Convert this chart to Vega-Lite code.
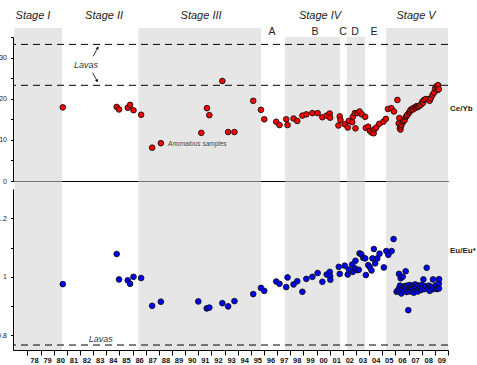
{
  "$schema": "https://vega.github.io/schema/vega-lite/v6.json",
  "autosize": {"type": "none"},
  "padding": {"left": 13, "top": 37, "right": 464, "bottom": 328},
  "background": "white",
  "bounds": "flush",
  "spacing": 8,
  "config": {
    "view": {"stroke": null},
    "font": "Liberation Sans",
    "axis": {
      "domainColor": "#000",
      "domainWidth": 1,
      "ticks": true,
      "tickColor": "#000",
      "tickWidth": 1,
      "tickSize": 2.5,
      "labelColor": "#222",
      "labelFont": "Liberation Sans",
      "labelFontSize": 7,
      "labelPadding": 4,
      "labelOverlap": false,
      "labelFlush": false,
      "grid": false,
      "zindex": 1
    }
  },
  "datasets": {
    "single": [{}],
    "stages": [
      {"name": "Stage I", "kind": "stage", "start": 1977.0, "end": 1980.63},
      {"name": "Stage III", "kind": "stage", "start": 1986.44, "end": 1995.77},
      {"name": "B", "kind": "episode", "start": 1997.6, "end": 2001.79},
      {"name": "D", "kind": "episode", "start": 2002.32, "end": 2003.69},
      {"name": "Stage V", "kind": "stage", "start": 2005.29, "end": 2010.0}
    ],
    "stageLabels": [
      {"label": "Stage I", "year": 1978.42},
      {"label": "Stage II", "year": 1983.83},
      {"label": "Stage III", "year": 1991.21},
      {"label": "Stage IV", "year": 2000.26},
      {"label": "Stage V", "year": 2007.57}
    ],
    "episodeLabels": [
      {"label": "A", "year": 1996.61},
      {"label": "B", "year": 1999.88},
      {"label": "C", "year": 2002.01},
      {"label": "D", "year": 2002.93},
      {"label": "E", "year": 2004.37}
    ],
    "arrows": [
      {"id": "upper", "year": 1983.0, "value": 30.3, "year2": 1983.35, "value2": 32.4},
      {"id": "lower", "year": 1982.96, "value": 26.3, "year2": 1983.3, "value2": 24.3}
    ],
    "ceyb": [
      {"year": 1980.69, "value": 17.9},
      {"year": 1984.79, "value": 18.0},
      {"year": 1984.97, "value": 17.4},
      {"year": 1985.63, "value": 17.8},
      {"year": 1985.81, "value": 18.5},
      {"year": 1986.07, "value": 17.2},
      {"year": 1986.65, "value": 16.1},
      {"year": 1987.49, "value": 8.1},
      {"year": 1988.15, "value": 9.2},
      {"year": 1991.23, "value": 11.7},
      {"year": 1991.66, "value": 17.7},
      {"year": 1991.84, "value": 16.0},
      {"year": 1992.83, "value": 24.3},
      {"year": 1993.27, "value": 11.9},
      {"year": 1993.75, "value": 11.9},
      {"year": 1995.18, "value": 19.5},
      {"year": 1995.77, "value": 17.3},
      {"year": 1996.02, "value": 15.0},
      {"year": 1996.93, "value": 14.4},
      {"year": 1997.18, "value": 13.6},
      {"year": 1997.69, "value": 15.0},
      {"year": 1997.79, "value": 13.6},
      {"year": 1998.25, "value": 15.2},
      {"year": 1998.53, "value": 14.6},
      {"year": 1998.92, "value": 15.9},
      {"year": 1999.22, "value": 16.2},
      {"year": 1999.68, "value": 16.5},
      {"year": 2000.08, "value": 16.5},
      {"year": 2000.44, "value": 15.5},
      {"year": 2000.77, "value": 15.9},
      {"year": 2001.0, "value": 16.4},
      {"year": 2001.03, "value": 15.4},
      {"year": 2001.66, "value": 13.5},
      {"year": 2001.76, "value": 15.7},
      {"year": 2001.82, "value": 14.8},
      {"year": 2002.14, "value": 13.8},
      {"year": 2002.37, "value": 13.0},
      {"year": 2002.45, "value": 14.6},
      {"year": 2002.71, "value": 14.3},
      {"year": 2002.76, "value": 15.6},
      {"year": 2002.91, "value": 16.5},
      {"year": 2002.96, "value": 12.8},
      {"year": 2003.11, "value": 16.5},
      {"year": 2003.27, "value": 16.9},
      {"year": 2003.44, "value": 16.2},
      {"year": 2003.7, "value": 15.6},
      {"year": 2003.75, "value": 12.9},
      {"year": 2003.93, "value": 13.2},
      {"year": 2004.05, "value": 12.2},
      {"year": 2004.18, "value": 11.8},
      {"year": 2004.34, "value": 11.6},
      {"year": 2004.41, "value": 12.6},
      {"year": 2004.54, "value": 13.0},
      {"year": 2004.77, "value": 13.9},
      {"year": 2005.08, "value": 14.4},
      {"year": 2005.27, "value": 15.1},
      {"year": 2005.43, "value": 17.5},
      {"year": 2005.69, "value": 17.7},
      {"year": 2005.89, "value": 16.9},
      {"year": 2006.15, "value": 19.7},
      {"year": 2006.25, "value": 14.0},
      {"year": 2006.3, "value": 15.3},
      {"year": 2006.34, "value": 12.8},
      {"year": 2006.38, "value": 12.5},
      {"year": 2006.4, "value": 13.2},
      {"year": 2006.45, "value": 13.6},
      {"year": 2006.55, "value": 14.2},
      {"year": 2006.6, "value": 14.6},
      {"year": 2006.7, "value": 14.8},
      {"year": 2006.78, "value": 15.5},
      {"year": 2006.85, "value": 15.8},
      {"year": 2006.91, "value": 16.1},
      {"year": 2007.03, "value": 16.6},
      {"year": 2007.1, "value": 16.9},
      {"year": 2007.16, "value": 17.3},
      {"year": 2007.29, "value": 17.6},
      {"year": 2007.35, "value": 17.4},
      {"year": 2007.46, "value": 17.9},
      {"year": 2007.55, "value": 17.8},
      {"year": 2007.62, "value": 18.2},
      {"year": 2007.7, "value": 18.0},
      {"year": 2007.79, "value": 18.2},
      {"year": 2007.92, "value": 18.5},
      {"year": 2008.05, "value": 19.3},
      {"year": 2008.1, "value": 19.0},
      {"year": 2008.18, "value": 19.7},
      {"year": 2008.3, "value": 19.9},
      {"year": 2008.48, "value": 19.9},
      {"year": 2008.6, "value": 19.5},
      {"year": 2008.69, "value": 20.1},
      {"year": 2008.82, "value": 20.9},
      {"year": 2008.94, "value": 21.5},
      {"year": 2009.02, "value": 22.5},
      {"year": 2009.15, "value": 23.1},
      {"year": 2009.2, "value": 22.1},
      {"year": 2009.25, "value": 23.3},
      {"year": 2009.3, "value": 22.3}
    ],
    "eueu": [
      {"year": 1980.69, "value": 0.975},
      {"year": 1984.79, "value": 1.078},
      {"year": 1984.97, "value": 0.991},
      {"year": 1985.63, "value": 0.988},
      {"year": 1985.81, "value": 0.976},
      {"year": 1986.07, "value": 1.0},
      {"year": 1986.65, "value": 0.996},
      {"year": 1987.49, "value": 0.901},
      {"year": 1988.15, "value": 0.915},
      {"year": 1991.0, "value": 0.916},
      {"year": 1991.64, "value": 0.892},
      {"year": 1991.84, "value": 0.895},
      {"year": 1992.83, "value": 0.91},
      {"year": 1993.27, "value": 0.899},
      {"year": 1993.75, "value": 0.917},
      {"year": 1995.18, "value": 0.941},
      {"year": 1995.77, "value": 0.962},
      {"year": 1996.02, "value": 0.952},
      {"year": 1996.93, "value": 0.984},
      {"year": 1997.18, "value": 0.976},
      {"year": 1997.69, "value": 0.965},
      {"year": 1997.79, "value": 0.998},
      {"year": 1998.25, "value": 0.974},
      {"year": 1998.53, "value": 0.985},
      {"year": 1998.92, "value": 0.949},
      {"year": 1999.22, "value": 0.993},
      {"year": 1999.68, "value": 1.0},
      {"year": 2000.08, "value": 1.013},
      {"year": 2000.44, "value": 0.983},
      {"year": 2000.77, "value": 1.008},
      {"year": 2001.0, "value": 1.017},
      {"year": 2001.03, "value": 1.002},
      {"year": 2001.05, "value": 0.99},
      {"year": 2001.69, "value": 1.034},
      {"year": 2001.76, "value": 1.01},
      {"year": 2002.14, "value": 1.038},
      {"year": 2002.37, "value": 1.008},
      {"year": 2002.45, "value": 1.025},
      {"year": 2002.71, "value": 1.042},
      {"year": 2002.76, "value": 1.017},
      {"year": 2002.91, "value": 1.029},
      {"year": 2002.96, "value": 1.055},
      {"year": 2003.11, "value": 1.023},
      {"year": 2003.21, "value": 1.024},
      {"year": 2003.27, "value": 1.08},
      {"year": 2003.4, "value": 1.077},
      {"year": 2003.55, "value": 1.065},
      {"year": 2003.7, "value": 1.063},
      {"year": 2003.75, "value": 1.006},
      {"year": 2003.93, "value": 1.04},
      {"year": 2004.05, "value": 1.033},
      {"year": 2004.18, "value": 1.022},
      {"year": 2004.25, "value": 1.063},
      {"year": 2004.36, "value": 1.095},
      {"year": 2004.46, "value": 1.046},
      {"year": 2004.62, "value": 1.063},
      {"year": 2004.79, "value": 1.079},
      {"year": 2005.12, "value": 1.032},
      {"year": 2005.31, "value": 1.088},
      {"year": 2005.46, "value": 1.075},
      {"year": 2005.71, "value": 1.088},
      {"year": 2005.86, "value": 1.129},
      {"year": 2006.09, "value": 0.949},
      {"year": 2006.2, "value": 0.955},
      {"year": 2006.27, "value": 1.01},
      {"year": 2006.3, "value": 0.962},
      {"year": 2006.35, "value": 0.97},
      {"year": 2006.4, "value": 0.995},
      {"year": 2006.45, "value": 0.943},
      {"year": 2006.5, "value": 0.958},
      {"year": 2006.55, "value": 1.0},
      {"year": 2006.6, "value": 0.965},
      {"year": 2006.65, "value": 0.952},
      {"year": 2006.7, "value": 0.968},
      {"year": 2006.78, "value": 1.019},
      {"year": 2006.8, "value": 0.96},
      {"year": 2006.85, "value": 0.948},
      {"year": 2006.9, "value": 0.97},
      {"year": 2006.98, "value": 0.886},
      {"year": 2007.0, "value": 0.962},
      {"year": 2007.05, "value": 0.955},
      {"year": 2007.1, "value": 0.972},
      {"year": 2007.15, "value": 0.95},
      {"year": 2007.2, "value": 0.965},
      {"year": 2007.3, "value": 0.958},
      {"year": 2007.35, "value": 0.97},
      {"year": 2007.4, "value": 0.946},
      {"year": 2007.45, "value": 0.962},
      {"year": 2007.5, "value": 0.974},
      {"year": 2007.55, "value": 0.955},
      {"year": 2007.6, "value": 0.965},
      {"year": 2007.7, "value": 0.95},
      {"year": 2007.75, "value": 0.97},
      {"year": 2007.8, "value": 0.96},
      {"year": 2007.9, "value": 0.968},
      {"year": 2007.95, "value": 0.955},
      {"year": 2008.0, "value": 0.972},
      {"year": 2008.05, "value": 0.962},
      {"year": 2008.13, "value": 0.991},
      {"year": 2008.2, "value": 0.958},
      {"year": 2008.3, "value": 0.968},
      {"year": 2008.38, "value": 1.031},
      {"year": 2008.45, "value": 0.96},
      {"year": 2008.55, "value": 0.97},
      {"year": 2008.6, "value": 0.952},
      {"year": 2008.7, "value": 0.965},
      {"year": 2008.8, "value": 0.957},
      {"year": 2008.86, "value": 0.991},
      {"year": 2008.95, "value": 0.962},
      {"year": 2009.05, "value": 0.97},
      {"year": 2009.15, "value": 0.958},
      {"year": 2009.25, "value": 0.966},
      {"year": 2009.3, "value": 0.977},
      {"year": 2009.31, "value": 0.96},
      {"year": 2009.32, "value": 0.992}
    ]
  },
  "vconcat": [
    {
      "width": 435,
      "height": 144,
      "layer": [
        {
          "data": {"name": "stages"},
          "transform": [{"filter": "datum.kind == 'stage'"}],
          "mark": {"type": "rect", "color": "#e6e6e6"},
          "encoding": {
            "x": {
              "field": "start", "type": "quantitative", "title": null,
              "scale": {"domain": [1976.9, 2010.0], "nice": false, "zero": false},
              "axis": {"labels": false, "ticks": false, "domain": true, "title": null}
            },
            "x2": {"field": "end"},
            "y": {
              "datum": 0, "type": "quantitative", "title": null,
              "scale": {"domain": [0, 35], "nice": false, "zero": false},
              "axis": {
                "values": [0, 5, 10, 15, 20, 25, 30, 35],
                "tickCount": 50,
                "labelExpr": "datum.value % 10 == 0 && datum.value < 35 ? format(datum.value, 'd') : ''",
                "title": null
              }
            },
            "y2": {"datum": 37.19}
          }
        },
        {
          "data": {"name": "stages"},
          "transform": [{"filter": "datum.kind == 'episode'"}],
          "mark": {"type": "rect", "color": "#e6e6e6"},
          "encoding": {
            "x": {"field": "start", "type": "quantitative", "title": null},
            "x2": {"field": "end"},
            "y": {"datum": 0, "title": null},
            "y2": {"datum": 35}
          }
        },
        {
          "data": {"name": "single"},
          "mark": {"type": "rule", "color": "#000", "strokeWidth": 1, "strokeDash": [7, 5]},
          "encoding": {"y": {"datum": 33.2, "title": null}}
        },
        {
          "data": {"name": "single"},
          "mark": {"type": "rule", "color": "#000", "strokeWidth": 1, "strokeDash": [7, 5]},
          "encoding": {"y": {"datum": 23.26, "title": null}}
        },
        {
          "data": {"name": "arrows"},
          "mark": {"type": "rule", "color": "#000", "strokeWidth": 0.8},
          "encoding": {
            "x": {"field": "year", "type": "quantitative", "title": null},
            "x2": {"field": "year2"},
            "y": {"field": "value", "type": "quantitative", "title": null},
            "y2": {"field": "value2"}
          }
        },
        {
          "data": {"name": "arrows"},
          "transform": [{"filter": "datum.id == 'upper'"}],
          "mark": {"type": "point", "shape": "triangle-up", "angle": 29, "size": 10, "filled": true, "color": "#000", "opacity": 1},
          "encoding": {
            "x": {"field": "year2", "type": "quantitative", "title": null},
            "y": {"field": "value2", "type": "quantitative", "title": null}
          }
        },
        {
          "data": {"name": "arrows"},
          "transform": [{"filter": "datum.id == 'lower'"}],
          "mark": {"type": "point", "shape": "triangle-down", "angle": -27, "size": 10, "filled": true, "color": "#000", "opacity": 1},
          "encoding": {
            "x": {"field": "year2", "type": "quantitative", "title": null},
            "y": {"field": "value2", "type": "quantitative", "title": null}
          }
        },
        {
          "data": {"name": "ceyb"},
          "mark": {"type": "circle", "size": 32, "fill": "#ff0000", "stroke": "#111", "strokeWidth": 0.9, "opacity": 1},
          "encoding": {
            "x": {"field": "year", "type": "quantitative", "title": null},
            "y": {"field": "value", "type": "quantitative", "title": null}
          }
        },
        {
          "data": {"name": "single"},
          "mark": {"type": "text", "text": "Anomalous samples", "align": "left", "baseline": "middle", "fontSize": 6.5, "fontStyle": "italic", "color": "#444"},
          "encoding": {"x": {"datum": 1988.7, "title": null}, "y": {"datum": 9.1, "title": null}}
        },
        {
          "data": {"name": "single"},
          "mark": {"type": "text", "text": "Lavas", "align": "center", "baseline": "middle", "fontSize": 9, "fontStyle": "italic", "color": "#333"},
          "encoding": {"x": {"datum": 1982.46, "title": null}, "y": {"datum": 28.2, "title": null}}
        },
        {
          "data": {"name": "stageLabels"},
          "mark": {"type": "text", "align": "center", "baseline": "middle", "fontSize": 11, "fontStyle": "italic", "color": "#222"},
          "encoding": {
            "x": {"field": "year", "type": "quantitative", "title": null},
            "y": {"datum": 40.1, "title": null},
            "text": {"field": "label"}
          }
        },
        {
          "data": {"name": "episodeLabels"},
          "mark": {"type": "text", "align": "center", "baseline": "middle", "fontSize": 10.5, "color": "#222"},
          "encoding": {
            "x": {"field": "year", "type": "quantitative", "title": null},
            "y": {"datum": 36.2, "title": null},
            "text": {"field": "label"}
          }
        },
        {
          "data": {"name": "single"},
          "mark": {"type": "text", "text": "Ce/Yb", "align": "left", "baseline": "middle", "dx": 2, "fontSize": 8, "fontWeight": "bold", "color": "#222"},
          "encoding": {"x": {"datum": 2010.0, "title": null}, "y": {"datum": 17.5, "title": null}}
        }
      ]
    },
    {
      "width": 435,
      "height": 161,
      "layer": [
        {
          "data": {"name": "stages"},
          "mark": {"type": "rect", "color": "#e6e6e6"},
          "encoding": {
            "x": {
              "field": "start", "type": "quantitative", "title": null,
              "scale": {"domain": [1976.9, 2010.0], "nice": false, "zero": false},
              "axis": {
                "values": [1978, 1979, 1980, 1981, 1982, 1983, 1984, 1985, 1986, 1987, 1988, 1989, 1990, 1991, 1992, 1993, 1994, 1995, 1996, 1997, 1998, 1999, 2000, 2001, 2002, 2003, 2004, 2005, 2006, 2007, 2008, 2009, 2010],
                "tickCount": 50,
                "format": "d",
                "labelExpr": "datum.value > 2009 ? '' : slice(datum.label, 2)",
                "labelOffset": 6.5,
                "labelFlush": false,
                "labelOverlap": false,
                "labelFontWeight": "bold",
                "labelFontSize": 7.5,
                "labelColor": "#111",
                "ticks": true,
                "tickSize": 5,
                "labelPadding": 1,
                "title": null
              }
            },
            "x2": {"field": "end"},
            "y": {
              "datum": 0.75, "type": "quantitative", "title": null,
              "scale": {"domain": [0.75, 1.3], "nice": false, "zero": false},
              "axis": {
                "values": [0.8, 0.9, 1.0, 1.1, 1.2],
                "tickCount": 50,
                "labelExpr": "datum.value == 0.9 || datum.value == 1.1 ? '' : format(datum.value, '~g')",
                "title": null
              }
            },
            "y2": {"datum": 1.3256}
          }
        },
        {
          "data": {"name": "single"},
          "mark": {"type": "rule", "color": "#000", "strokeWidth": 1, "strokeDash": [7, 5]},
          "encoding": {"y": {"datum": 0.767, "title": null}}
        },
        {
          "data": {"name": "single"},
          "mark": {"type": "text", "text": "Lavas", "align": "center", "baseline": "middle", "fontSize": 9, "fontStyle": "italic", "color": "#333"},
          "encoding": {"x": {"datum": 1983.57, "title": null}, "y": {"datum": 0.788, "title": null}}
        },
        {
          "data": {"name": "eueu"},
          "mark": {"type": "circle", "size": 32, "fill": "#0000ff", "stroke": "#111", "strokeWidth": 0.9, "opacity": 1},
          "encoding": {
            "x": {"field": "year", "type": "quantitative", "title": null},
            "y": {"field": "value", "type": "quantitative", "title": null}
          }
        },
        {
          "data": {"name": "single"},
          "mark": {"type": "text", "text": "Eu/Eu*", "align": "left", "baseline": "middle", "dx": 2, "fontSize": 8, "fontWeight": "bold", "color": "#222"},
          "encoding": {"x": {"datum": 2010.0, "title": null}, "y": {"datum": 1.088, "title": null}}
        }
      ]
    }
  ]
}
